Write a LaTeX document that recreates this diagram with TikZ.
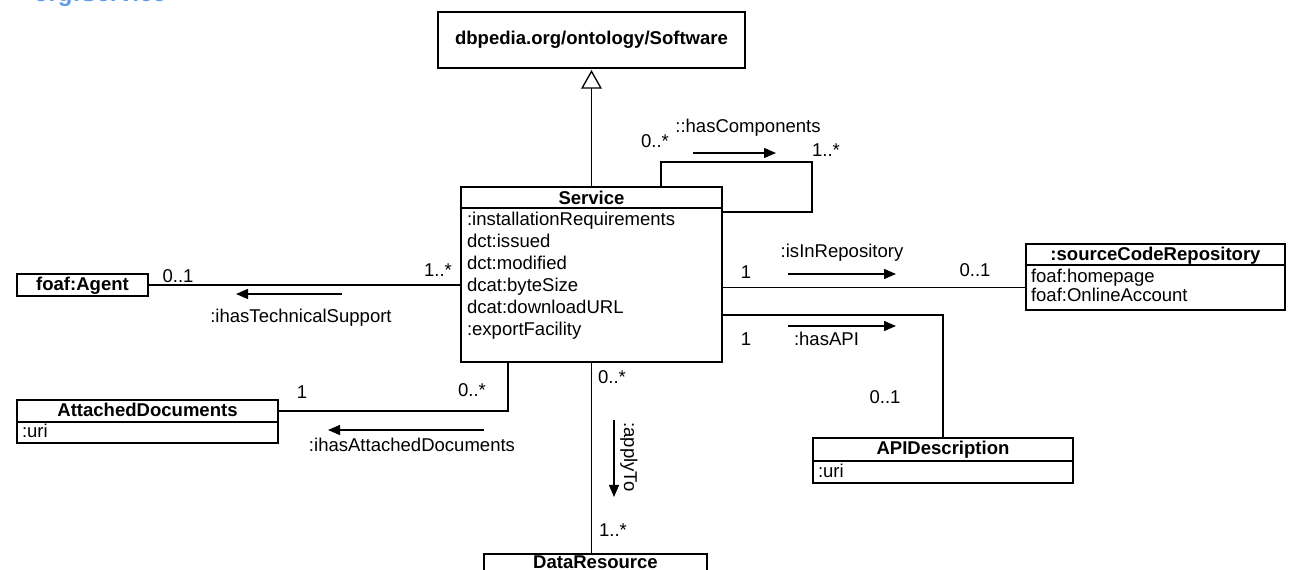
\documentclass[tikz,border=0pt]{standalone}
\usepackage{fontspec}
\setmainfont{Liberation Sans}
\usetikzlibrary{arrows.meta,calc}
\definecolor{titleblue}{RGB}{95,155,230}
\begin{document}
\begin{tikzpicture}[x=0.75pt,y=-0.75pt,line width=1pt,
  every node/.style={font=\fontsize{13.9}{16}\selectfont, inner sep=0pt, outer sep=0pt},
  cls/.style 2 args={draw, rectangle, line width=1pt, anchor=north west,
     minimum width=0.75pt*#1, minimum height=0.75pt*#2},
  hd/.style={anchor=base, font=\fontsize{13.9}{16}\selectfont\bfseries},
  attr/.style={anchor=base west},
  lbl/.style={anchor=base},
  dir/.style={-{Triangle[length=9pt,width=7.5pt]}},
  gen/.style={-{Triangle[open,length=14pt,width=15.5pt]}, shorten >=1.5pt}
]
\clip (0,0) rectangle (1290,570);
\fill[white] (0,0) rectangle (1290,570);

% cut-off title
\node[anchor=base east, text=titleblue, font=\fontsize{18}{20}\selectfont\bfseries] (title) at (166,1.5) {org:Service};

% classes
\node[cls={307}{56}] (sw) at (438,12) {};
\node[hd] (swt) at (591.5,45) {dbpedia.org/ontology/Software};

\node[cls={261}{21}] (svch) at (461,187) {};
\node[cls={261}{154}] (svcb) at (461,208) {};
\node[hd] (svct) at (591.5,205) {Service};
\node[attr] (s1) at (467,226) {:installationRequirements};
\node[attr] (s2) at (467,248) {dct:issued};
\node[attr] (s3) at (467,270) {dct:modified};
\node[attr] (s4) at (467,292) {dcat:byteSize};
\node[attr] (s5) at (467,314) {dcat:downloadURL};
\node[attr] (s6) at (467,336) {:exportFacility};

\node[cls={131}{22}] (ag) at (17,274) {};
\node[hd] (agt) at (82.5,291) {foaf:Agent};

\node[cls={261}{22}] (adh) at (17,400) {};
\node[cls={261}{21}] (adb) at (17,422) {};
\node[hd] (adt) at (147.5,417) {AttachedDocuments};
\node[attr] (ad1) at (22,438) {:uri};

\node[cls={259}{21}] (scrh) at (1026,244) {};
\node[cls={259}{45}] (scrb) at (1026,265) {};
\node[hd] (scrt) at (1155.5,261) {:sourceCodeRepository};
\node[attr] (sc1) at (1031,283) {foaf:homepage};
\node[attr] (sc2) at (1031,302) {foaf:OnlineAccount};

\node[cls={260}{23}] (apih) at (813,438) {};
\node[cls={260}{22}] (apib) at (813,461) {};
\node[hd] (apit) at (943,455) {APIDescription};
\node[attr] (ap1) at (818,478) {:uri};

\node[cls={223}{40}] (drh) at (484,554) {};
\node[hd] (drt) at (595.5,568.5) {DataResource};

% generalization
\draw[gen] (svch.north) -- (sw.south);

% self association
\draw ($(svch.north)+(69.5,0)$) -- ++(0,-25) -- ++(151,0) -- ++(0,50) coordinate (lc) -- (lc -| svcb.east);
\node[lbl] (hc) at (748,133) {::hasComponents};
\node[lbl] (hc0) at (655,148) {0..*};
\node[lbl] (hc1) at (826,157) {1..*};
\coordinate (hcA) at (693,153); \coordinate (hcB) at (776,153);
\draw[dir] (hcA) -- (hcB);

% technical support
\draw (ag.east) -- (ag.east -| svcb.west);
\node[lbl] (ts0) at (178,283) {0..1};
\node[lbl] (ts1) at (438,277) {1..*};
\coordinate (tsA) at (342,294); \coordinate (tsB) at (236,294);
\draw[dir] (tsA) -- (tsB);
\node[lbl] (tsl) at (301,323) {:ihasTechnicalSupport};

% attached documents
\draw ($(svcb.south)+(-83.5,0)$) |- (adh.east);
\node[lbl] (ad0) at (302,399) {1};
\node[lbl] (adm) at (472,397) {0..*};
\coordinate (adA) at (484,430); \coordinate (adB) at (328,430);
\draw[dir] (adA) -- (adB);
\node[lbl] (adl) at (412,452) {:ihasAttachedDocuments};

% applyTo
\draw (svcb.south) -- (svcb.south |- drh.north);
\node[lbl] (ap0) at (612,384) {0..*};
\node[lbl] (ap1m) at (613,537) {1..*};
\coordinate (atA) at (614,420); \coordinate (atB) at (614,497);
\draw[dir] (atA) -- (atB);
\node[rotate=-90] (atl) at (629,457) {:applyTo};

% repository
\draw (scrb.west) -- (scrb.west -| svcb.east);
\node[lbl] (rp1) at (746,279) {1};
\node[lbl] (rpl) at (842,258) {:isInRepository};
\node[lbl] (rp0) at (975,277) {0..1};
\coordinate (rpA) at (788,274); \coordinate (rpB) at (896,274);
\draw[dir] (rpA) -- (rpB);

% API
\draw (apih.north) |- ($(svcb.east)+(0,30)$);
\node[lbl] (api1) at (746,346) {1};
\node[anchor=base west] (apil) at (794,346) {:hasAPI};
\node[lbl] (api0) at (885,404) {0..1};
\coordinate (apA) at (788,326); \coordinate (apB) at (896,326);
\draw[dir] (apA) -- (apB);
\end{tikzpicture}
\end{document}
